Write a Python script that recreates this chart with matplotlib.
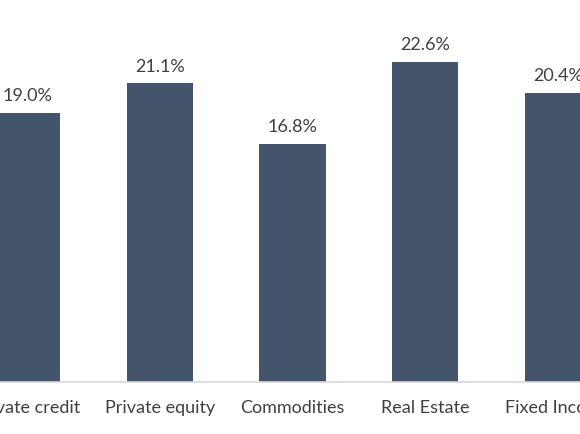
import matplotlib
matplotlib.use("Agg")
import matplotlib.pyplot as plt

categories = ["Private credit", "Private equity", "Commodities", "Real Estate", "Fixed Income"]
values = [19.0, 21.1, 16.8, 22.6, 20.4]

bar_color = "#44546A"
text_color = "#404040"

plt.rcParams['font.family'] = ['Lato', 'DejaVu Sans']

fig = plt.figure(figsize=(5.8, 4.35), dpi=100)
ax = fig.add_axes([0, 52 / 435, 1, 354 / 435])

x = list(range(len(categories)))
bars = ax.bar(x, values, width=0.5, color=bar_color, zorder=2)

for b, v in zip(bars, values):
    ax.annotate("%.1f%%" % v, (b.get_x() + b.get_width() / 2, b.get_height()),
                xytext=(0, 7), textcoords="offset points",
                ha="center", va="bottom", fontsize=13, color=text_color)

ax.set_xlim(-27 / 132.7, (580 - 27) / 132.7)
ax.set_ylim(0, 25)
ax.set_xticks(x)
ax.set_xticklabels(categories, fontsize=13, color=text_color)
ax.tick_params(axis="x", length=0, pad=12)
ax.set_yticks([])
for s in ["top", "right", "left"]:
    ax.spines[s].set_visible(False)
ax.spines["bottom"].set_color("#D9D9D9")
ax.spines["bottom"].set_linewidth(1.2)

fig.savefig("out.png", dpi=100)
